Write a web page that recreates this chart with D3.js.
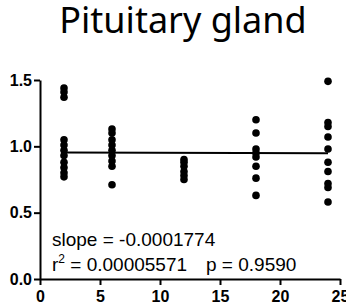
<!DOCTYPE html>
<html>
<head>
<meta charset="utf-8">
<script src="https://cdn.jsdelivr.net/npm/d3@7"></script>
<style>
  body { margin: 0; background: #fff; }
  .axis text { font-family: Arial, "Liberation Sans", sans-serif; font-weight: bold; font-size: 16px; fill: #000; }
  .axis path, .axis line { stroke: #000; stroke-width: 2; }
</style>
</head>
<body>
<div id="root"></div>
<script>
const WIDTH = 346
const HEIGHT = 307

const timePoints = [2, 6, 12, 18, 24]
const valuesAt2 = [1.44, 1.41, 1.37, 1.05, 1.01, 0.97, 0.93, 0.88, 0.84, 0.80, 0.77]
const valuesAt6 = [1.13, 1.10, 1.05, 1.01, 0.97, 0.93, 0.89, 0.85, 0.71]
const valuesAt12 = [0.90, 0.88, 0.85, 0.81, 0.78, 0.75]
const valuesAt18 = [1.20, 1.10, 0.98, 0.95, 0.92, 0.85, 0.76, 0.63]
const valuesAt24 = [1.49, 1.18, 1.15, 1.07, 0.98, 0.88, 0.81, 0.72, 0.69, 0.58]
const groups = [valuesAt2, valuesAt6, valuesAt12, valuesAt18, valuesAt24]

const xTicks = [0, 5, 10, 15, 20, 25]
const yTicks = [0.0, 0.5, 1.0, 1.5]

const slope = -0.0001774
const intercept = 0.953
const annotations = ['slope = -0.0001774', 'r2 = 0.00005571', 'p = 0.9590']

const points = []
timePoints.forEach((t, i) => groups[i].forEach(v => points.push({ x: t, y: v })))

const xScale = d3.scaleLinear().domain([0, 25]).range([40, 340])
const yScale = d3.scaleLinear().domain([0, 1.5]).range([279, 80])

const svg = d3.select('#root')
  .append('svg')
  .attr('width', WIDTH)
  .attr('height', HEIGHT)

svg.append('text')
  .attr('x', 183)
  .attr('y', 33)
  .attr('text-anchor', 'middle')
  .style('font-family', '"Noto Sans", "Open Sans", sans-serif')
  .style('font-size', '36px')
  .text('Pituitary gland')

svg.append('g')
  .attr('class', 'axis')
  .attr('transform', `translate(0, ${yScale(0)})`)
  .call(d3.axisBottom(xScale).tickValues(xTicks).tickSize(6).tickSizeOuter(0).tickFormat(d3.format('d')))
  .call(g => g.selectAll('text').attr('y', 12).attr('dy', '0.71em'))

svg.append('g')
  .attr('class', 'axis')
  .attr('transform', `translate(${xScale(0)}, 0)`)
  .call(d3.axisLeft(yScale).tickValues(yTicks).tickSize(6).tickSizeOuter(0).tickFormat(d3.format('.1f')))
  .call(g => g.selectAll('text').attr('x', -8))

svg.selectAll('circle.dot')
  .data(points)
  .enter()
  .append('circle')
  .attr('class', 'dot')
  .attr('cx', d => xScale(d.x))
  .attr('cy', d => yScale(d.y))
  .attr('r', 3.8)
  .style('fill', '#000')

const fit = d3.line()
  .x(d => xScale(d))
  .y(d => yScale(intercept + slope * d))

svg.append('path')
  .datum([timePoints[0], timePoints[timePoints.length - 1]])
  .attr('d', fit)
  .attr('fill', 'none')
  .attr('stroke', '#000')
  .attr('stroke-width', 2)

const note = svg.append('g')
  .style('font-family', 'Arial, "Liberation Sans", sans-serif')
  .style('font-size', '19px')

note.append('text').attr('x', 52).attr('y', 246).text(annotations[0])

const r2 = note.append('text').attr('x', 52).attr('y', 271)
r2.append('tspan').text('r')
r2.append('tspan').attr('dy', -8).style('font-size', '12px').text('2')
r2.append('tspan').attr('dy', 8).text(annotations[1].slice(2))

note.append('text').attr('x', 206).attr('y', 271).text(annotations[2])
</script>
</body>
</html>
